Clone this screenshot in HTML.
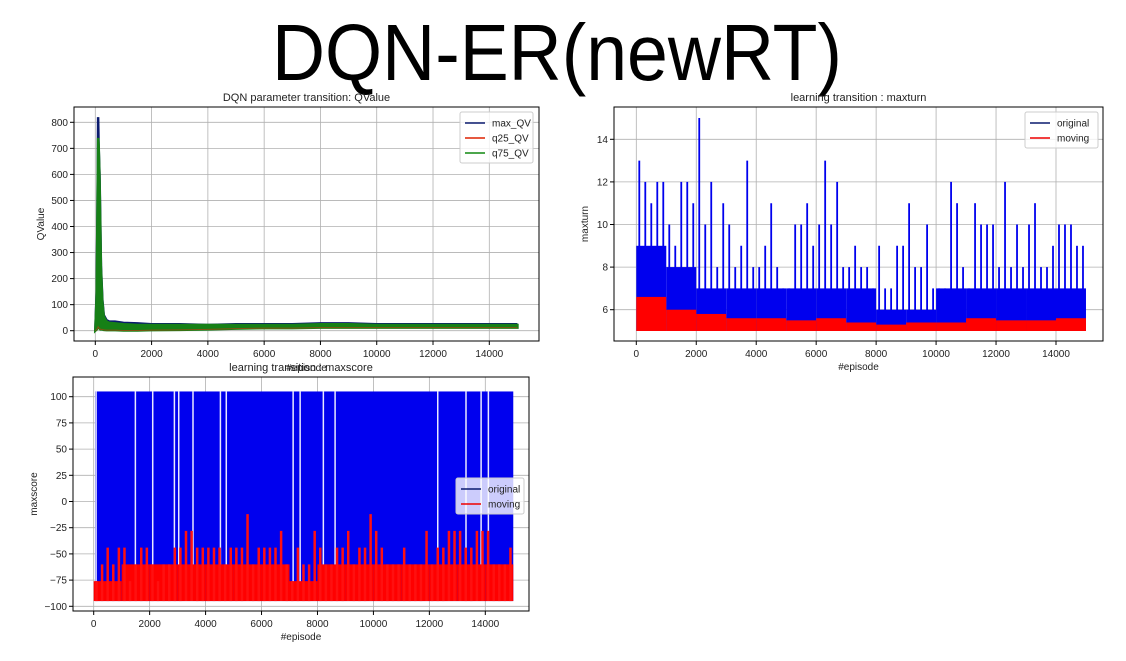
<!DOCTYPE html>
<html><head><meta charset="utf-8"><style>
html,body{margin:0;padding:0;background:#fff;}
svg{display:block;font-family:"Liberation Sans","DejaVu Sans",sans-serif;}
</style></head><body>
<svg id="fig" width="1126" height="661" viewBox="0 0 1126 661" xmlns="http://www.w3.org/2000/svg">
<rect width="1126" height="661" fill="#fff"/>
<text x="272" y="80" font-size="80" textLength="570" lengthAdjust="spacingAndGlyphs" fill="#000">DQN-ER(newRT)</text>
<g id="c1"></g>
<g id="c2"></g>
<g id="c3"></g>
</svg>
<script>
// ---- Chart 1 data ----
const qEpisodes=[0,50,80,100,120,150,180,200,250,300,400,500,700,1000,1500,2000,3000,4000,5000,6000,7000,8000,9000,10000,11000,12000,13000,14000,15000];
const maxQV=[0,150,500,820,700,600,400,250,120,60,40,35,35,30,28,25,25,22,25,25,25,28,28,25,25,25,25,25,25];
const q75QV=[0,140,480,740,710,580,380,240,110,55,35,30,28,25,22,22,22,22,22,22,22,25,25,22,22,22,22,22,22];
const q25QV=[0,5,10,15,10,10,5,5,5,3,2,2,2,1,1,2,3,5,8,10,10,12,12,12,12,12,12,12,12];
const q1Ticks=[0,100,200,300,400,500,600,700,800];
const xTicks=[0,2000,4000,6000,8000,10000,12000,14000];
// ---- Chart 2 data (per 200-episode bin) ----
const turnPeaks=[13,12,11,12,12,10,9,12,12,11,15,10,12,8,11,10,8,9,13,8,8,9,11,8,7,7,10,10,11,9,10,13,10,12,8,8,9,8,8,7,9,7,7,9,9,11,8,8,10,7,7,7,12,11,8,7,11,10,10,10,8,12,8,10,8,10,11,8,8,9,10,10,10,9,9];
const turnBand=[9,8,7,7,7,7,7,7,6,6,7,7,7,7,7];
const turnMoving=[6.6,6.0,5.8,5.6,5.6,5.5,5.6,5.4,5.3,5.4,5.4,5.6,5.5,5.5,5.6];
const turnTicks=[6,8,10,12,14];
// ---- Chart 3 data ----
const scoreTop=105, scoreBottom=-95;
const scoreGaps=[85,1490,2110,2885,3040,3550,4530,4740,7130,7380,8210,8630,12300,13310,13850,14110];
const movingPeaks=[-76,-60,-44,-60,-44,-44,-76,-60,-44,-44,-60,-76,-60,-60,-44,-44,-28,-28,-44,-44,-44,-44,-44,-60,-44,-44,-44,-12,-60,-44,-44,-44,-44,-28,-60,-76,-44,-60,-60,-28,-44,-60,-60,-44,-44,-28,-60,-44,-44,-12,-28,-44,-60,-60,-60,-44,-60,-60,-60,-28,-60,-44,-44,-28,-28,-28,-44,-44,-28,-28,-28,-60,-60,-60,-44];
const movingLevel=[-76,-60,-60,-60,-60,-60,-60,-76,-60,-60,-60,-60,-60,-60,-60];
const scoreTicks=[-100,-75,-50,-25,0,25,50,75,100];

const NS="http://www.w3.org/2000/svg";
function mk(parent,tag,attrs,text){const e=document.createElementNS(NS,tag);for(const k in attrs)e.setAttribute(k,attrs[k]);if(text!==undefined)e.textContent=text;parent.appendChild(e);return e;}
function lin(d0,d1,r0,r1){return v=>r0+(v-d0)*(r1-r0)/(d1-d0);}

function axesFrame(g,box,xs,ys,yt,xt){
  xt.forEach(t=>{const l=mk(g,'line',{x1:xs(t),x2:xs(t),y1:box.y0,y2:box.y1,stroke:'#b0b0b0','stroke-width':0.8});
    
    });
  yt.forEach(t=>{const l=mk(g,'line',{x1:box.x0,x2:box.x1,y1:ys(t),y2:ys(t),stroke:'#b0b0b0','stroke-width':0.8});
    
    });
}
function axesDecor(g,box,xs,ys,yt,xt,title,titleY,xlab,xlabY,ylab,ylabX,ylabY){
  const fr=mk(g,'rect',{x:box.x0,y:box.y0,width:box.x1-box.x0,height:box.y1-box.y0,fill:'none',stroke:'#000','stroke-width':1});
  
  
  xt.forEach(t=>{mk(g,'line',{x1:xs(t),x2:xs(t),y1:box.y1,y2:box.y1+4,stroke:'#000'});
    const tx=mk(g,'text',{x:xs(t),y:box.y1+16,'font-size':10,'text-anchor':'middle',fill:'#222'},String(t));
    
    });
  yt.forEach(t=>{mk(g,'line',{x1:box.x0-4,x2:box.x0,y1:ys(t),y2:ys(t),stroke:'#000'});
    const tx=mk(g,'text',{x:box.x0-6,y:ys(t)+3.5,'font-size':10,'text-anchor':'end',fill:'#222'},String(t).replace('-','\u2212'));
    
    });
  const tt=mk(g,'text',{x:(box.x0+box.x1)/2,y:titleY,'font-size':11,'text-anchor':'middle',fill:'#222'},title);
  
  
  if(xlab){const xl=mk(g,'text',{x:(box.x0+box.x1)/2,y:xlabY,'font-size':10,'text-anchor':'middle',fill:'#222'},xlab);
    
    }
  const yl=mk(g,'text',{x:ylabX,y:ylabY,'font-size':10,'text-anchor':'middle',fill:'#222',transform:`rotate(-90 ${ylabX} ${ylabY})`},ylab);
  
  
}
function legend(g,x,y,w,entries,alpha){
  const h=entries.length*15+6;
  const r=mk(g,'rect',{x:x,y:y,width:w,height:h,rx:2,fill:'#fff','fill-opacity':alpha,stroke:'#ccc'});
  
  
  entries.forEach((e,i)=>{const yy=y+11+i*15;
    const l=mk(g,'line',{x1:x+5,x2:x+25,y1:yy,y2:yy,stroke:e[1],'stroke-width':1.5});
    
    
    const t=mk(g,'text',{x:x+32,y:yy+3.5,'font-size':10,fill:'#222'},e[0]);
    
    });
}

// ---- Chart 1 ----
(function(){
  const g=document.getElementById('c1');
  const box={x0:74,x1:539,y0:107,y1:341};
  const xs=lin(0,14000,95.3,489.3), ys=lin(0,800,330.7,122.3);
  axesFrame(g,box,xs,ys,q1Ticks,xTicks);
  let d='M'+qEpisodes.map((e,i)=>xs(e)+','+ys(maxQV[i])).join('L');
  const ml=mk(g,'path',{d:d,fill:'none',stroke:'#0a1a6e','stroke-width':2.5});
  
  
  let a='M'+qEpisodes.map((e,i)=>xs(e)+','+ys(q75QV[i])).join('L')+'L'+qEpisodes.slice().reverse().map((e,i)=>xs(e)+','+ys(q25QV[qEpisodes.length-1-i])).join('L')+'Z';
  const ga=mk(g,'path',{d:a,fill:'#168016',stroke:'#168016','stroke-width':2.5});
  
  
  let r='M'+qEpisodes.map((e,i)=>xs(e)+','+ys(q25QV[i])).join('L');
  const rl=mk(g,'path',{d:r,fill:'none',stroke:'#cc3311','stroke-width':1,'stroke-opacity':0.6});
  
  
  axesDecor(g,box,xs,ys,q1Ticks,xTicks,'DQN parameter transition: QValue',101,'#episode',371,'QValue',44,(box.y0+box.y1)/2);
  legend(g,460,112,73,[['max_QV','#0a1a6e'],['q25_QV','#dd2200'],['q75_QV','#118811']],0.8);
})();

// ---- Chart 2 ----
(function(){
  const g=document.getElementById('c2');
  const box={x0:614,x1:1103,y0:107,y1:341};
  const xs=lin(0,14000,636.3,1056), ys=lin(6,14,309.7,139.3);
  axesFrame(g,box,xs,ys,turnTicks,xTicks);
  turnBand.forEach((v,i)=>{const r=mk(g,'rect',{x:xs(i*1000),y:ys(v),width:xs(1000)-xs(0),height:ys(5)-ys(v),fill:'#0000ee'});
    
    });
  turnPeaks.forEach((v,i)=>{const x=xs(i*200+100);
    const l=mk(g,'line',{x1:x,x2:x,y1:ys(5),y2:ys(v),stroke:'#0000ee','stroke-width':1.8});
    
    });
  turnMoving.forEach((v,i)=>{const r=mk(g,'rect',{x:xs(i*1000),y:ys(v),width:xs(1000)-xs(0),height:ys(5)-ys(v),fill:'#ff0000'});
    
    });
  axesDecor(g,box,xs,ys,turnTicks,xTicks,'learning transition : maxturn',101,'#episode',370,'maxturn',588,(box.y0+box.y1)/2);
  legend(g,1025,112,73,[['original','#0a1a6e'],['moving','#ee0000']],0.8);
})();

// ---- Chart 3 ----
(function(){
  const g=document.getElementById('c3');
  const box={x0:73,x1:529,y0:377,y1:611};
  const xs=lin(0,14000,93.7,485.3), ys=lin(-100,100,606.3,396.7);
  axesFrame(g,box,xs,ys,scoreTicks,xTicks);
  const b=mk(g,'rect',{x:xs(50),y:ys(scoreTop),width:xs(15000)-xs(50),height:ys(scoreBottom)-ys(scoreTop),fill:'#0000ee'});
  
  
  scoreGaps.forEach(e=>{const l=mk(g,'line',{x1:xs(e),x2:xs(e),y1:ys(scoreTop),y2:ys(scoreBottom)-3,stroke:'#e8e8ff','stroke-width':1.5});
    
    });
  movingLevel.forEach((v,i)=>{const r=mk(g,'rect',{x:xs(i*1000),y:ys(v),width:xs(1000)-xs(0),height:ys(scoreBottom)-ys(v),fill:'#ff0000'});
    
    });
  movingPeaks.forEach((v,i)=>{const x=xs(i*200+100);
    const l=mk(g,'line',{x1:x,x2:x,y1:ys(scoreBottom),y2:ys(v),stroke:'#ff1010','stroke-width':2.5});
    
    });
  axesDecor(g,box,xs,ys,scoreTicks,xTicks,'learning transition : maxscore',371,'#episode',640,'maxscore',37,(box.y0+box.y1)/2);
  legend(g,456,478,68,[['original','#0a1a6e'],['moving','#ee0000']],0.8);
})();
</script>
</body></html>
